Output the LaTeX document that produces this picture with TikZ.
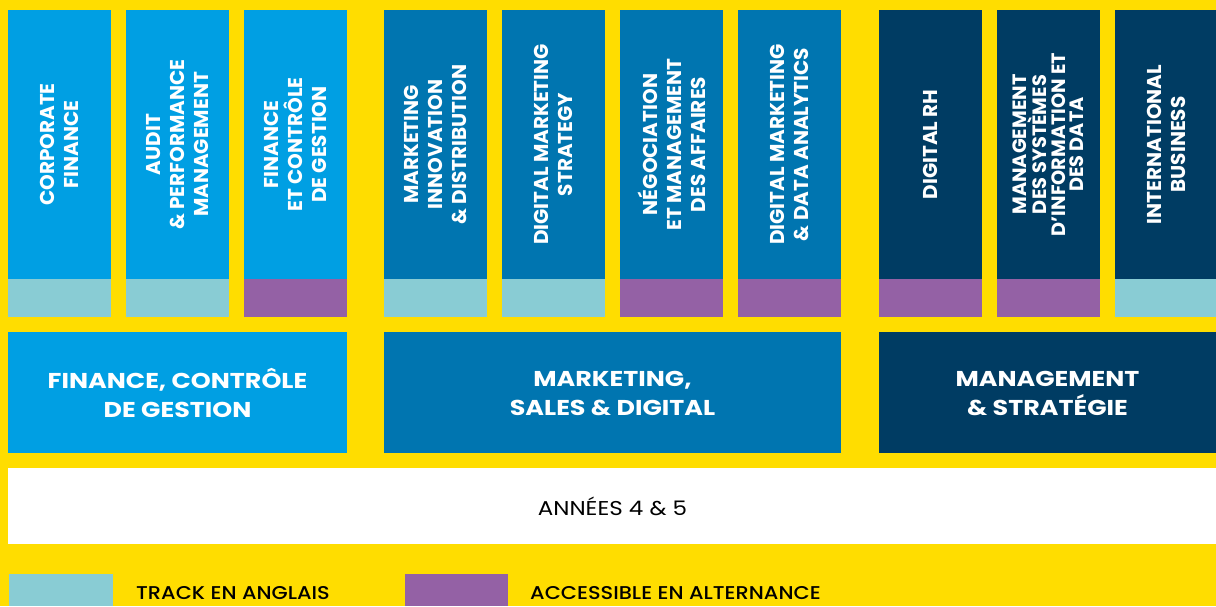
\documentclass[tikz,border=0pt]{standalone}
\usepackage{fontspec}
\newfontfamily\pop{Poppins}
\newfontfamily\popwide{Poppins}[FakeStretch=1.18]
\newfontfamily\popbook{Poppins}[FakeStretch=1.15]
\newfontfamily\popmed{Poppins}[UprightFont={* Medium},FakeStretch=1.13]
\definecolor{yel}{HTML}{FFDD00}
\definecolor{lblue}{HTML}{009FE3}
\definecolor{mblue}{HTML}{0075B0}
\definecolor{navy}{HTML}{003C63}
\definecolor{teal}{HTML}{89CCD4}
\definecolor{purp}{HTML}{9461A5}
\tikzset{
  coltext/.style={text=white, align=center, inner sep=0pt, rotate=90},
  bigtext/.style={text=white, align=center, inner sep=0pt,
    font={\popwide\bfseries\fontsize{21.5}{29}\selectfont}},
  legtext/.style={text=black, inner sep=0pt, anchor=base west,
    font={\popmed\fontsize{18.5}{20}\selectfont}},
}
\begin{document}
\begin{tikzpicture}[x=1pt,y=-1pt]
\fill[yel] (0,0) rectangle (1216,606);
\useasboundingbox (0,0) rectangle (1216,606);
% columns
\foreach \x/\fc/\bc/\fs/\ls/\t [count=\i] in {
  8/lblue/teal/20/24/{CORPORATE\\FINANCE},
  126/lblue/teal/20/24/{AUDIT\\\& PERFORMANCE\\MANAGEMENT},
  244/lblue/purp/20/24/{FINANCE\\ET CONTRÔLE\\DE GESTION},
  384/mblue/teal/20/24/{MARKETING\\INNOVATION\\\& DISTRIBUTION},
  502/mblue/teal/20/24/{DIGITAL MARKETING\\STRATEGY},
  620/mblue/purp/20/24/{NÉGOCIATION\\ET MANAGEMENT\\DES AFFAIRES},
  738/mblue/purp/20/24/{DIGITAL MARKETING\\\& DATA ANALYTICS},
  879/navy/purp/20/24/{DIGITAL RH},
  997/navy/purp/19.3/18.7/{MANAGEMENT\\DES SYSTÈMES\\D’INFORMATION ET\\DES DATA},
  1115/navy/teal/20/24/{INTERNATIONAL\\BUSINESS}}
{
  \fill[\fc] (\x,10) rectangle ++(103,269);
  \fill[\bc] (\x,279) rectangle ++(103,38);
  \node[coltext, font={\pop\bfseries\fontsize{\fs}{\ls}\selectfont}] (lab\i) at (\x+51.5,144.5) {\t};
}
% group boxes
\fill[lblue] (8,332) rectangle (347,453);
\fill[mblue] (384,332) rectangle (841,453);
\fill[navy] (879,332) rectangle (1216,453);
\node[bigtext] (g1) at (177.5,393) {FINANCE, CONTRÔLE\\DE GESTION};
\node[bigtext] (g2) at (612.5,393) {MARKETING,\\SALES \& DIGITAL};
\node[bigtext] (g3) at (1047.5,393) {MANAGEMENT\\\& STRATÉGIE};
% years band
\fill[white] (8,468) rectangle (1216,544);
\node[text=black, inner sep=0pt, font={\popbook\fontsize{20}{22}\selectfont}] (yrs) at (612.5,506) {ANNÉES 4 \& 5};
% legend
\fill[teal] (9,574) rectangle (113,606);
\fill[purp] (405,574) rectangle (508,606);
\node[legtext] (l1) at (136,599.5) {TRACK EN ANGLAIS};
\node[legtext] (l2) at (530,599.5) {ACCESSIBLE EN ALTERNANCE};
\end{tikzpicture}
\end{document}
